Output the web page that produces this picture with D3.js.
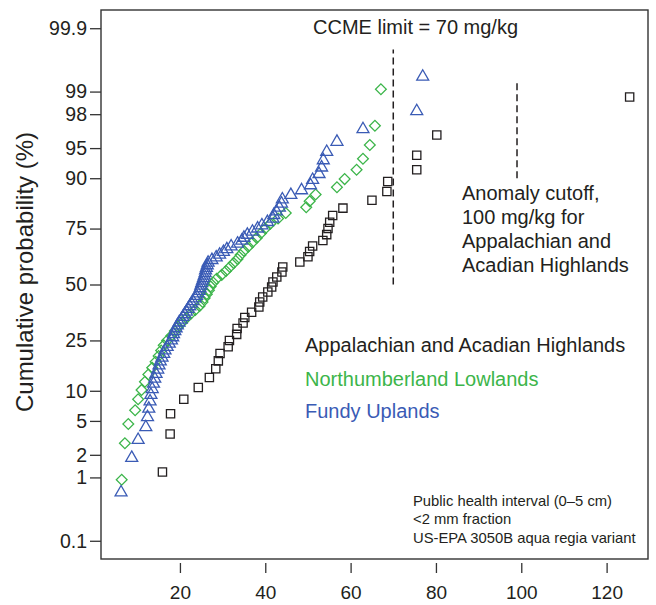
<!DOCTYPE html>
<html>
<head>
<meta charset="utf-8">
<script src="https://cdn.jsdelivr.net/npm/d3@7"></script>
<style>
  body { margin: 0; background: #fff; }
  svg { font-family: "Liberation Sans", Arial, sans-serif; }
</style>
</head>
<body>
<div id="chart"></div>
<script>
// sorted concentrations (mg/kg) per region
var highlands = [15.9, 17.7, 17.8, 20.9, 24.3, 26.9, 28.4, 29.0, 29.4, 31.3, 31.6, 33.3, 33.4, 34.8,
  35.2, 36.8, 38.5, 38.7, 39.4, 40.6, 41.5, 41.8, 42.7, 43.9, 44.1, 48.1, 50.0, 50.4, 51.1, 53.5,
  54.4, 54.7, 55.1, 55.8, 58.2, 65.0, 68.5, 68.7, 75.5, 75.5, 80.2, 125.4];
var lowlands = [6.35, 7.1, 7.9, 9.5, 10.2, 11.0, 11.8, 12.6, 13.5, 14.3, 15.0, 15.6, 16.2, 17.0,
  18.0, 18.8, 19.6, 20.5, 21.5, 22.5, 23.6, 24.6, 25.3, 25.8, 26.3, 26.8, 27.2, 27.8, 28.6, 29.8,
  30.8, 31.7, 32.6, 33.5, 34.2, 35.0, 36.0, 37.0, 38.0, 39.0, 40.0, 41.2, 43.0, 44.8, 49.6, 50.4,
  51.8, 56.8, 58.6, 61.4, 62.9, 64.5, 65.7, 67.1];
var uplands = [6.2, 8.7, 10.2, 12.0, 12.4, 12.7, 13.0, 13.2, 13.5, 13.8, 14.1, 14.4, 14.8, 15.1,
  15.4, 15.8, 16.2, 16.5, 17.0, 17.5, 18.0, 18.3, 18.5, 18.8, 19.1, 19.4, 19.8, 20.3, 20.7, 21.1,
  21.5, 21.9, 22.3, 22.7, 23.0, 23.6, 23.9, 24.2, 24.5, 24.7, 24.9, 25.1, 25.3, 25.5, 25.7, 25.9,
  26.0, 26.2, 26.4, 26.6, 27.5, 28.5, 29.3, 30.2, 31.0, 32.0, 33.5, 34.5, 35.0, 35.8, 37.0, 38.2,
  39.2, 40.5, 41.8, 42.0, 42.6, 43.3, 43.8, 44.0, 46.0, 48.5, 50.6, 51.1, 52.6, 53.2, 53.6, 54.4,
  56.8, 62.9, 75.5, 76.9];

var seriesNames = ["Appalachian and Acadian Highlands", "Northumberland Lowlands", "Fundy Uplands"];
var seriesColors = ["#231f20", "#3cb54a", "#3a5bb5"];

var xTicks = [20, 40, 60, 80, 100, 120];
var yTicks = [0.1, 1, 2, 5, 10, 25, 50, 75, 90, 95, 98, 99, 99.9];
var yTickLabels = ["0.1", "1", "2", "5", "10", "25", "50", "75", "90", "95", "98", "99", "99.9"];

// reference lines: concentration, probability range (%)
var ccmeLine = { x: 70, p0: 50, p1: 99.77 };
var anomalyLine = { x: 99, p0: 90, p1: 99.3 };

var width = 656, height = 605;
var margin = {top: 10, right: 8, bottom: 46, left: 101};

// inverse normal CDF (Acklam)
function qnorm(p) {
  var a = [-39.69683028665376, 220.9460984245205, -275.9285104469687, 138.3577518672690, -30.66479806614716, 2.506628277459239];
  var b = [-54.47609879822406, 161.5858368580409, -155.6989798598866, 66.80131188771972, -13.28068155288572];
  var c = [-0.007784894002430293, -0.3223964580411365, -2.400758277161838, -2.549732539343734, 4.374664141464968, 2.938163982698783];
  var d = [0.007784695709041462, 0.3224671290700398, 2.445134137142996, 3.754408661907416];
  var pl = 0.02425, q, r;
  if (p < pl) {
    q = Math.sqrt(-2 * Math.log(p));
    return (((((c[0]*q+c[1])*q+c[2])*q+c[3])*q+c[4])*q+c[5]) / ((((d[0]*q+d[1])*q+d[2])*q+d[3])*q+1);
  }
  if (p > 1 - pl) return -qnorm(1 - p);
  q = p - 0.5; r = q * q;
  return (((((a[0]*r+a[1])*r+a[2])*r+a[3])*r+a[4])*r+a[5])*q / (((((b[0]*r+b[1])*r+b[2])*r+b[3])*r+b[4])*r+1);
}

// plotting positions (i - 0.5) / n
function probPoints(values) {
  var n = values.length;
  return values.slice().sort(d3.ascending).map(function(v, i) {
    return { x: v, z: qnorm((i + 0.5) / n) };
  });
}

var svg = d3.select("#chart")
  .append("svg")
  .attr("width", width)
  .attr("height", height);

var x = d3.scaleLinear()
  .domain([1.5, 129.7])
  .range([margin.left, width - margin.right]);

var y = d3.scaleLinear()
  .domain([-3.31, 3.31])
  .range([height - margin.bottom, margin.top]);

function yp(pct) { return y(qnorm(pct / 100)); }

// box
svg.append("rect")
  .attr("x", margin.left)
  .attr("y", margin.top)
  .attr("width", width - margin.right - margin.left)
  .attr("height", height - margin.bottom - margin.top)
  .attr("fill", "none")
  .attr("stroke", "#333")
  .attr("stroke-width", 1.4);

// X axis
var xAxis = svg.append("g")
  .attr("transform", "translate(0," + (height - margin.bottom + 4) + ")")
  .call(d3.axisBottom(x).tickValues(xTicks).tickSize(10).tickPadding(13).tickFormat(d3.format("d")));
xAxis.select(".domain").remove();
xAxis.selectAll("line").attr("stroke", "#333").attr("stroke-width", 1.3);
xAxis.selectAll("text").attr("font-size", "19px").attr("fill", "#231f20")
  .style("font-family", "Liberation Sans, Arial, sans-serif");

// Y axis
var yAxis = svg.append("g")
  .attr("transform", "translate(" + margin.left + ",0)")
  .call(d3.axisLeft(y)
    .tickValues(yTicks.map(function(p) { return qnorm(p / 100); }))
    .tickFormat(function(d, i) { return yTickLabels[i]; })
    .tickSize(11).tickPadding(3));
yAxis.select(".domain").remove();
yAxis.selectAll("line").attr("stroke", "#333").attr("stroke-width", 1.3);
yAxis.selectAll("text").attr("font-size", "19.5px").attr("fill", "#231f20")
  .style("font-family", "Liberation Sans, Arial, sans-serif");

// Y axis label
svg.append("text")
  .attr("transform", "translate(33,272)rotate(-90)")
  .attr("text-anchor", "middle")
  .attr("font-size", "24px")
  .attr("fill", "#231f20")
  .text("Cumulative probability (%)");

// reference lines
[ccmeLine, anomalyLine].forEach(function(l) {
  svg.append("line")
    .attr("x1", x(l.x)).attr("x2", x(l.x))
    .attr("y1", yp(l.p0)).attr("y2", yp(l.p1))
    .attr("stroke", "#231f20")
    .attr("stroke-width", 1.5)
    .attr("stroke-dasharray", "7,4");
});

svg.append("text")
  .attr("x", 313).attr("y", 34)
  .attr("font-size", "20px").attr("fill", "#231f20")
  .text("CCME limit = 70 mg/kg");

var anomalyText = ["Anomaly cutoff,", "100 mg/kg for", "Appalachian and", "Acadian Highlands"];
svg.append("g").selectAll("text")
  .data(anomalyText)
  .enter().append("text")
    .attr("x", 462)
    .attr("y", function(d, i) { return 200 + i * 24; })
    .attr("font-size", "20px").attr("fill", "#231f20")
    .text(function(d) { return d; });

// markers: square, diamond (rotated square), triangle
var symbols = [d3.symbolSquare, d3.symbolSquare, d3.symbolTriangle];
var symbolSizes = [68, 58, 62];
var symbolRotate = [0, 45, 0];
var allSeries = [highlands, lowlands, uplands];

allSeries.forEach(function(values, k) {
  var pts = probPoints(values);
  var sym = d3.symbol().type(symbols[k]).size(symbolSizes[k]);
  svg.append("g").selectAll("path")
    .data(pts)
    .enter().append("path")
      .attr("transform", function(d) {
        return "translate(" + x(d.x) + "," + y(d.z) + ") rotate(" + symbolRotate[k] + ")";
      })
      .attr("d", sym)
      .attr("fill", "none")
      .attr("stroke", seriesColors[k])
      .attr("stroke-width", 1.3);
});

// legend
var legendY = [352, 386, 418];
svg.append("g").selectAll("text")
  .data(seriesNames)
  .enter().append("text")
    .attr("x", 305)
    .attr("y", function(d, i) { return legendY[i]; })
    .attr("font-size", "20px")
    .attr("fill", function(d, i) { return seriesColors[i]; })
    .text(function(d) { return d; });

// method note
var noteLines = ["Public health interval (0\u20135 cm)", "<2 mm fraction", "US-EPA 3050B aqua regia variant"];
svg.append("g").selectAll("text")
  .data(noteLines)
  .enter().append("text")
    .attr("x", 413)
    .attr("y", function(d, i) { return 506 + i * 18.3; })
    .attr("font-size", "14.8px").attr("fill", "#231f20")
    .text(function(d) { return d; });
</script>
</body>
</html>
